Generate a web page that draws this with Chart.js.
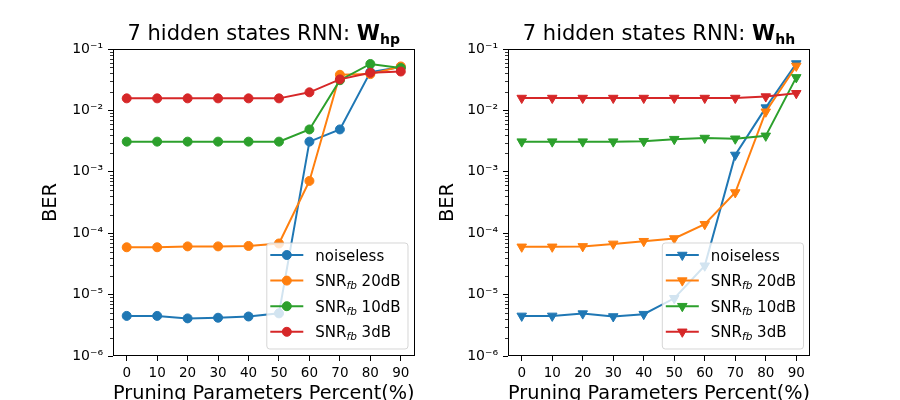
<!DOCTYPE html>
<html>
<head>
<meta charset="utf-8">
<script src="https://cdn.jsdelivr.net/npm/chart.js@4.4.0/dist/chart.umd.min.js"></script>
<style>
  body { margin: 0; background: #fff; }
  #wrap { position: relative; width: 900px; height: 400px; overflow: hidden; }
  canvas { position: absolute; top: 0; }
</style>
</head>
<body>
<div id="wrap">
  <canvas id="hpChart" width="420" height="400" style="left:0"></canvas>
  <canvas id="hhChart" width="480" height="400" style="left:420px"></canvas>
</div>
<script>
// pruning percent on the x axis
const pruning = [0, 10, 20, 30, 40, 50, 60, 70, 80, 90];
const seriesLabels = ['noiseless', 'SNR_fb 20dB', 'SNR_fb 10dB', 'SNR_fb 3dB'];
const colors = ['#1f77b4', '#ff7f0e', '#2ca02c', '#d62728'];
const yTickExps = [-6, -5, -4, -3, -2, -1];

// BER, W_hp pruned
const hpNoiseless = [4.5e-6, 4.5e-6, 4.1e-6, 4.2e-6, 4.4e-6, 4.95e-6, 3.1e-3, 4.9e-3, 4.2e-2, 5.1e-2];
const hpSnr20 = [5.9e-5, 5.9e-5, 6.1e-5, 6.1e-5, 6.2e-5, 6.8e-5, 7.1e-4, 3.8e-2, 3.9e-2, 5.2e-2];
const hpSnr10 = [3.1e-3, 3.1e-3, 3.1e-3, 3.1e-3, 3.1e-3, 3.1e-3, 4.9e-3, 3.1e-2, 5.7e-2, 4.9e-2];
const hpSnr3 = [1.57e-2, 1.57e-2, 1.57e-2, 1.57e-2, 1.57e-2, 1.57e-2, 1.97e-2, 3.2e-2, 4.1e-2, 4.3e-2];

// BER, W_hh pruned
const hhNoiseless = [4.5e-6, 4.5e-6, 4.9e-6, 4.4e-6, 4.8e-6, 8.7e-6, 2.95e-5, 1.88e-3, 1.11e-2, 5.8e-2];
const hhSnr20 = [6.0e-5, 6.0e-5, 6.1e-5, 6.7e-5, 7.4e-5, 8.2e-5, 1.4e-4, 4.6e-4, 9.5e-3, 5.3e-2];
const hhSnr10 = [3.1e-3, 3.1e-3, 3.1e-3, 3.1e-3, 3.15e-3, 3.4e-3, 3.55e-3, 3.45e-3, 3.85e-3, 3.45e-2];
const hhSnr3 = [1.59e-2, 1.59e-2, 1.59e-2, 1.59e-2, 1.59e-2, 1.59e-2, 1.59e-2, 1.59e-2, 1.68e-2, 1.9e-2];

Chart.defaults.font.family = "'DejaVu Sans', sans-serif";
Chart.defaults.color = '#000';

const SUP = {'-': '\u207b', '0': '\u2070', '1': '\u00b9', '2': '\u00b2', '3': '\u00b3',
             '4': '\u2074', '5': '\u2075', '6': '\u2076'};
function sup(n) {
    return String(n).split('').map(c => SUP[c]).join('');
}

function drawMarker(ctx, style, x, y, color) {
    ctx.fillStyle = color;
    ctx.strokeStyle = color;
    ctx.lineWidth = 1;
    ctx.beginPath();
    if (style === 'circle') {
        ctx.arc(x, y, 4.5, 0, Math.PI * 2);
    } else {
        const r = 5.5;
        ctx.moveTo(x, y + r);
        ctx.lineTo(x - r * 0.866, y - r * 0.5);
        ctx.lineTo(x + r * 0.866, y - r * 0.5);
        ctx.closePath();
    }
    ctx.fill();
    ctx.stroke();
}

// frame, minor ticks, title with bold subscript, legend with italic subscript
function decorations(sub, marker) {
    return {
        id: 'decor',
        afterDatasetsDraw(chart) {
            const {ctx, chartArea: a, scales: {y}} = chart;
            ctx.save();
            ctx.strokeStyle = '#000';
            ctx.lineWidth = 0.8;
            for (let e = -6; e <= -2; e++) {
                for (let k = 2; k < 10; k++) {
                    const py = Math.round(y.getPixelForValue(k * Math.pow(10, e))) + 0.5;
                    ctx.beginPath();
                    ctx.moveTo(a.left - 3, py);
                    ctx.lineTo(a.left, py);
                    ctx.stroke();
                }
            }
            ctx.lineWidth = 1;
            ctx.strokeRect(Math.round(a.left) + 0.5, Math.round(a.top) + 0.5,
                           Math.round(a.width) - 1, Math.round(a.height) - 1);
            ctx.restore();
        },
        afterDraw(chart) {
            const {ctx, chartArea: a} = chart;
            ctx.save();
            // title
            const part1 = '7 hidden states RNN: ';
            const fNorm = "21px 'DejaVu Sans'";
            const fBold = "bold 21px 'DejaVu Sans'";
            const fSub = "bold 14px 'DejaVu Sans'";
            ctx.font = fNorm; const w1 = ctx.measureText(part1).width;
            ctx.font = fBold; const w2 = ctx.measureText('W').width;
            ctx.font = fSub; const w3 = ctx.measureText(sub).width;
            let tx = (a.left + a.right) / 2 - (w1 + w2 + w3) / 2;
            const base = 39.5;
            ctx.fillStyle = '#000';
            ctx.textBaseline = 'alphabetic';
            ctx.textAlign = 'left';
            ctx.font = fNorm; ctx.fillText(part1, tx, base); tx += w1;
            ctx.font = fBold; ctx.fillText('W', tx, base); tx += w2;
            ctx.font = fSub; ctx.fillText(sub, tx, base + 4);

            // legend
            const fLeg = "15px 'DejaVu Sans'";
            const fIt = "italic 10.5px 'DejaVu Sans'";
            const parts = seriesLabels.map(s => s.split('_fb'));
            const widths = parts.map(p => {
                ctx.font = fLeg;
                let w = ctx.measureText(p[0]).width;
                if (p.length > 1) {
                    w += ctx.measureText(p[1]).width;
                    ctx.font = fIt;
                    w += ctx.measureText('fb').width;
                }
                return w;
            });
            const boxW = 49 + Math.max(...widths) + 7;
            const boxH = 106;
            const bx = a.right - 7 - boxW;
            const by = a.bottom - 7.5 - boxH;
            ctx.beginPath();
            ctx.roundRect(bx + 0.5, by + 0.5, boxW, boxH, 3);
            ctx.fillStyle = 'rgba(255,255,255,0.8)';
            ctx.fill();
            ctx.strokeStyle = 'rgba(204,204,204,0.8)';
            ctx.lineWidth = 1;
            ctx.stroke();
            parts.forEach((p, i) => {
                const cy = by + 12.5 + i * 25.6;
                ctx.strokeStyle = colors[i];
                ctx.lineWidth = 2;
                ctx.beginPath();
                ctx.moveTo(bx + 4, cy);
                ctx.lineTo(bx + 37, cy);
                ctx.stroke();
                drawMarker(ctx, marker, bx + 20.5, cy, colors[i]);
                let lx = bx + 49;
                const bl = cy + 5.5;
                ctx.fillStyle = '#000';
                ctx.font = fLeg;
                ctx.fillText(p[0], lx, bl);
                if (p.length > 1) {
                    lx += ctx.measureText(p[0]).width;
                    ctx.font = fIt;
                    ctx.fillText('fb', lx, bl + 3);
                    lx += ctx.measureText('fb').width;
                    ctx.font = fLeg;
                    ctx.fillText(p[1], lx, bl);
                }
            });
            ctx.restore();
        }
    };
}

function makeChart(id, sub, series, marker, yWidth, padRight, yTitlePad) {
    const ctx = document.getElementById(id).getContext('2d');
    const datasets = series.map((vals, i) => ({
        label: seriesLabels[i],
        data: pruning.map((x, j) => ({x: x, y: vals[j]})),
        borderColor: colors[i],
        backgroundColor: colors[i],
        borderWidth: 2,
        pointStyle: marker === 'circle' ? 'circle' : 'triangle',
        pointRotation: marker === 'circle' ? 0 : 180,
        pointRadius: marker === 'circle' ? 4.5 : 5.5,
        pointBorderWidth: 1,
        tension: 0,
        order: series.length - 1 - i   // last series drawn on top
    }));
    return new Chart(ctx, {
        type: 'line',
        data: {datasets: datasets},
        plugins: [decorations(sub, marker)],
        options: {
            responsive: false,
            animation: false,
            devicePixelRatio: 1,
            events: [],
            layout: {padding: {left: 0, top: 49, right: padRight, bottom: 0}},
            plugins: {legend: {display: false}, tooltip: {enabled: false}},
            scales: {
                x: {
                    type: 'linear',
                    min: -4.5,
                    max: 94.5,
                    afterBuildTicks: s => { s.ticks = pruning.map(v => ({value: v})); },
                    afterFit: s => { s.height = 44; },
                    border: {display: false},
                    grid: {drawOnChartArea: false, drawTicks: true, tickLength: 5, tickColor: '#000', tickWidth: 1},
                    ticks: {font: {size: 13.5}, padding: 4, maxRotation: 0, autoSkip: false},
                    title: {
                        display: true,
                        text: 'Pruning Parameters Percent(%)',
                        font: {size: 19.4, lineHeight: 1.2},
                        padding: {top: 0, bottom: -6}
                    }
                },
                y: {
                    type: 'logarithmic',
                    min: 1e-6,
                    max: 1e-1,
                    afterBuildTicks: s => { s.ticks = yTickExps.map(e => ({value: Math.pow(10, e)})); },
                    afterFit: s => { s.width = yWidth; },
                    border: {display: false},
                    grid: {drawOnChartArea: false, drawTicks: true, tickLength: 5, tickColor: '#000', tickWidth: 1},
                    ticks: {
                        font: {size: 14},
                        padding: 5,
                        autoSkip: false,
                        callback: v => '10' + sup(Math.round(Math.log10(v)))
                    },
                    title: {
                        display: true,
                        text: 'BER',
                        font: {size: 19.4, lineHeight: 1.2},
                        padding: {top: yTitlePad, bottom: 0}
                    }
                }
            }
        }
    });
}

makeChart('hpChart', 'hp', [hpNoiseless, hpSnr20, hpSnr10, hpSnr3], 'circle', 113, 4, 39);
makeChart('hhChart', 'hh', [hhNoiseless, hhSnr20, hhSnr10, hhSnr3], 'triangle', 88, 90, 16.7);
</script>
</body>
</html>
